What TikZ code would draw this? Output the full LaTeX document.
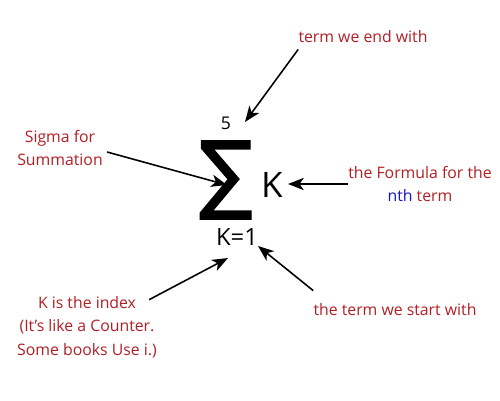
\documentclass[tikz,border=0pt]{standalone}
\usepackage{fontspec}
\setmainfont{Open Sans}
\newfontfamily\symfont[FakeBold=1.6]{DejaVu Sans}
\usetikzlibrary{arrows.meta}
\definecolor{labred}{RGB}{178,30,36}
\definecolor{labblue}{RGB}{20,20,200}

\begin{document}
\begin{tikzpicture}[
    x=0.02cm, y=-0.02cm,
    >={Stealth[length=9pt, width=7pt, inset=2.5pt]},
    note/.style={text=labred, align=center, font=\fontsize{9pt}{13.5pt}\selectfont, inner sep=0pt},
    pointer/.style={->, line width=0.9pt}
]
    \useasboundingbox (0,0) rectangle (500,400);

    % the summation itself
    \node[inner sep=0pt, xscale=0.92, font=\symfont\fontsize{49pt}{49pt}\selectfont] (sigma) at (226,180) {∑};
    \node[inner sep=0pt, font=\fontsize{10pt}{10pt}\selectfont] (upper) at (226,123) {5};
    \node[inner sep=0pt, font=\fontsize{20pt}{20pt}\selectfont] (term) at (272,185) {K};
    \node[inner sep=0pt, font=\fontsize{13.5pt}{13.5pt}\selectfont] (lower) at (237,237) {K=1};

    % labels
    \node[note] (endlbl) at (363,37) {term we end with};
    \node[note] (sigmalbl) at (60,148) {Sigma for\\Summation};
    \node[note] (formlbl) at (420,184) {the Formula for the\\\textcolor{labblue}{nth} term};
    \node[note] (indexlbl) at (87,327) {K is the index\\(It’s like a Counter.\\Some books Use i.)};
    \node[note] (startlbl) at (395,310) {the term we start with};

    % arrow tips
    \coordinate (endtip) at (245,122);
    \coordinate (sigmatip) at (227,185);
    \coordinate (formtip) at (288,184);
    \coordinate (indextip) at (228,258);
    \coordinate (starttip) at (258,246);

    \draw[pointer] (endlbl.south west) ++(0,6) -- (endtip);
    \draw[pointer] (sigmalbl.east) ++(4,4) -- (sigmatip);
    \draw[pointer] (formlbl.west |- formtip) -- (formtip);
    \draw[pointer] (indexlbl.north east) ++(-8,4) -- (indextip);
    \draw[pointer] (startlbl.north west) ++(0,-13) -- (starttip);
\end{tikzpicture}
\end{document}
